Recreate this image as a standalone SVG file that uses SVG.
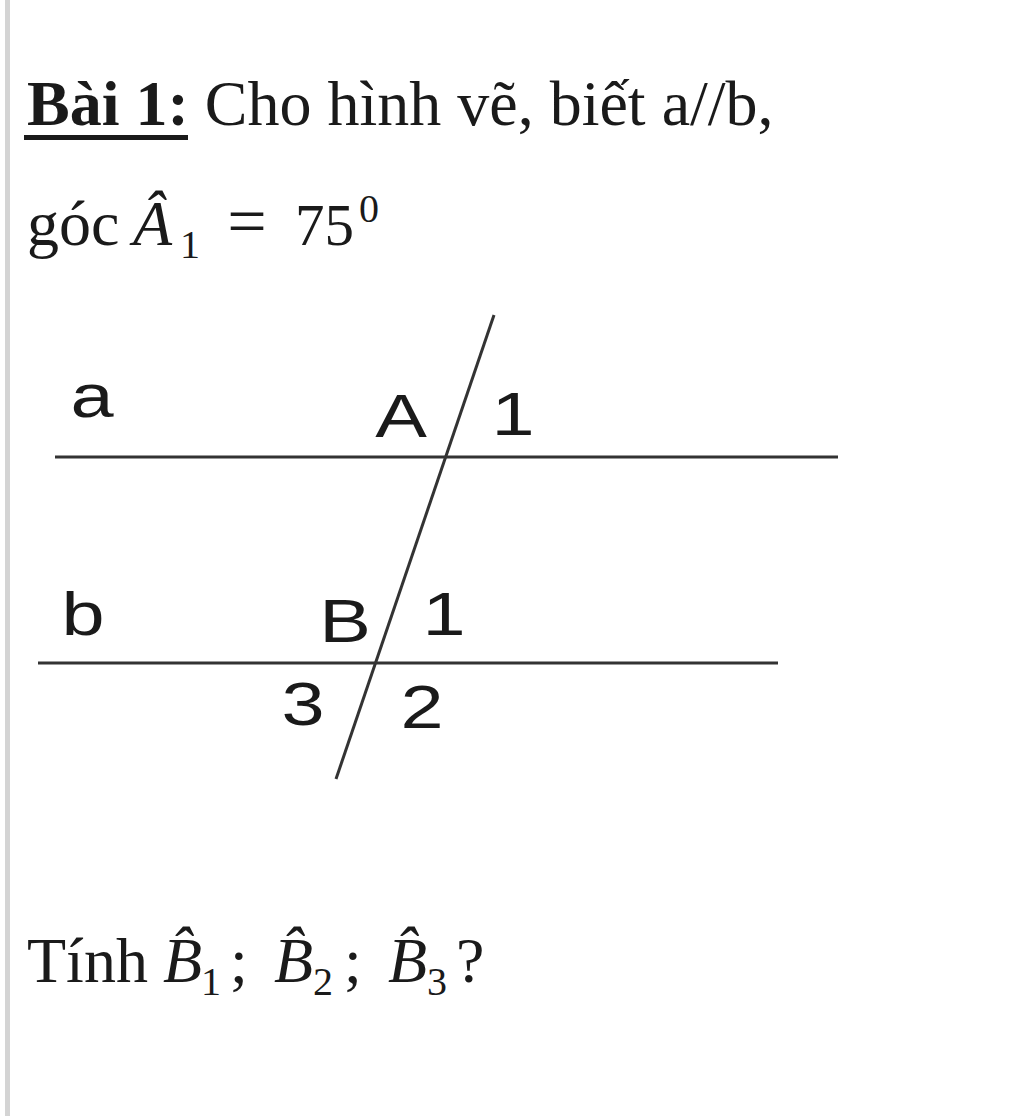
<svg xmlns="http://www.w3.org/2000/svg" width="1024" height="1116" viewBox="0 0 1024 1116">
<style>
.serif{font-family:"Liberation Serif","Times New Roman",serif;fill:#1a1a1a}
.it{font-style:italic}
.lbl{font-family:"Liberation Sans",Arial,sans-serif;font-size:62px;fill:#1a1a1a;text-anchor:middle}
.ln{stroke:#333;stroke-width:3;fill:none}
</style>
<rect width="1024" height="1116" fill="#fff"/>
<rect x="5" y="0" width="5" height="1116" fill="#d4d4d4"/>
<g id="title">
<text class="serif" x="27" y="125" font-size="64"><tspan font-weight="bold">Bài 1:</tspan> Cho hình vẽ, biết a//b,</text>
<rect x="24" y="135" width="164" height="5" fill="#1a1a1a"/>
</g>
<g id="given">
<text class="serif" x="27" y="245" font-size="64">góc</text>
<text class="serif it" x="133" y="245" font-size="64">Â</text>
<text class="serif" x="180" y="258" font-size="40">1</text>
<text class="serif" x="247" y="245" font-size="70" text-anchor="middle">=</text>
<text class="serif" x="295" y="245" font-size="59">75</text>
<text class="serif" x="359" y="222" font-size="40">0</text>
</g>
<g id="lines">
<line id="line-a" class="ln" x1="55" y1="457" x2="838" y2="457"/>
<line id="line-b" class="ln" x1="38" y1="663" x2="778" y2="663"/>
<line id="transversal" class="ln" x1="494" y1="315" x2="336" y2="779" stroke-width="2.6"/>
</g>
<g id="labels">
<text class="lbl" transform="translate(92,417) scale(1.25,1)">a</text>
<text class="lbl" transform="translate(401,437) scale(1.25,1)">A</text>
<text class="lbl" transform="translate(513,435) scale(1.25,1)">1</text>
<text class="lbl" transform="translate(83,635) scale(1.25,1)">b</text>
<text class="lbl" transform="translate(345,642) scale(1.25,1)">B</text>
<text class="lbl" transform="translate(444,635) scale(1.25,1)">1</text>
<text class="lbl" transform="translate(303,725) scale(1.25,1)">3</text>
<text class="lbl" transform="translate(422,728) scale(1.25,1)">2</text>
</g>
<g id="question">
<text class="serif" x="27" y="982" font-size="64">Tính</text>
<text class="serif it" x="163" y="982" font-size="64">B&#x302;</text>
<text class="serif" x="201" y="995" font-size="40">1</text>
<text class="serif" x="230" y="982" font-size="64">;</text>
<text class="serif it" x="274" y="982" font-size="64">B&#x302;</text>
<text class="serif" x="313" y="995" font-size="40">2</text>
<text class="serif" x="344" y="982" font-size="64">;</text>
<text class="serif it" x="388" y="982" font-size="64">B&#x302;</text>
<text class="serif" x="427" y="995" font-size="40">3</text>
<text class="serif" x="456" y="982" font-size="64">?</text>
</g>
</svg>
